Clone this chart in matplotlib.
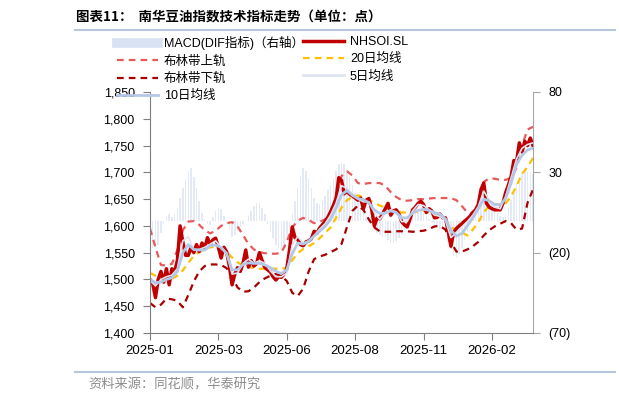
import numpy as np
import matplotlib
matplotlib.use('Agg')
import matplotlib.pyplot as plt
from matplotlib.lines import Line2D
from matplotlib.ticker import FuncFormatter

plt.rcParams['font.family'] = ['Liberation Sans', 'Noto Sans CJK SC']

# NHSOI.SL close, one value every 2 trading days
close = [1500, 1492, 1466, 1500, 1515, 1495, 1520, 1490, 1520, 1515,
         1535, 1600, 1570, 1545, 1545, 1560, 1550, 1565, 1552, 1568,
         1558, 1578, 1565, 1574, 1577, 1560, 1540, 1560, 1552, 1525,
         1490, 1510, 1522, 1515, 1530, 1555, 1523, 1535, 1525, 1530,
         1550, 1535, 1522, 1518, 1514, 1505, 1499, 1505, 1504, 1510,
         1520, 1555, 1598, 1578, 1575, 1565, 1563, 1570, 1572, 1576,
         1590, 1586, 1596, 1602, 1608, 1616, 1626, 1638, 1650, 1690,
         1685, 1660, 1665, 1659, 1656, 1652, 1648, 1652, 1632, 1648,
         1651, 1632, 1600, 1615, 1613, 1622, 1632, 1642, 1620, 1628,
         1630, 1622, 1608, 1602, 1598, 1612, 1630, 1635, 1642, 1646,
         1640, 1625, 1632, 1628, 1615, 1616, 1622, 1615, 1615, 1590,
         1562, 1588, 1595, 1600, 1604, 1609, 1613, 1618, 1625, 1630,
         1640, 1668, 1680, 1642, 1635, 1632, 1630, 1630, 1630, 1642,
         1662, 1676, 1692, 1722, 1720, 1755, 1738, 1758, 1750, 1764,
         1750]

# MACD DIF (right axis), same sampling as close
macd_dif = [-15, -17, -18, -15, -8, -2, 3, 4, 2, 4,
            8, 14, 20, 26, 31, 33, 27, 20, 12, 5,
            1, -2, -3, 2, 6, 8, 7, 3, -2, -6,
            -10, -9, -6, -4, -2, 0, 3, 6, 9, 11,
            11, 8, 4, -2, -7, -11, -15, -17, -18, -16,
            -12, -5, 4, 12, 20, 28, 33, 31, 26, 20,
            14, 11, 10, 12, 15, 19, 22, 26, 31, 35,
            36, 35, 31, 27, 22, 17, 12, 8, 5, 2,
            -1, -3, -6, -8, -9, -10, -10, -12, -14, -14,
            -13, -11, -9, -6, -3, 0, 3, 5, 6, 6,
            5, 3, 1, -1, -3, -4, -5, -6, -8, -13,
            -18, -22, -23, -21, -17, -12, -7, -2, 3, 8,
            12, 15, 17, 16, 13, 10, 7, 5, 3, 2,
            4, 8, 13, 18, 23, 27, 30, 31, 31, 30,
            29]

# moving averages and Bollinger bands, one value every 4 trading days
ma5 = [1498, 1488, 1500, 1505, 1508, 1520, 1572, 1580, 1555, 1556,
       1560, 1566, 1572, 1560, 1550, 1510, 1512, 1530, 1538, 1530,
       1535, 1530, 1516, 1505, 1505, 1512, 1565, 1580, 1568, 1572,
       1582, 1594, 1604, 1620, 1642, 1675, 1670, 1660, 1650, 1645,
       1645, 1625, 1612, 1625, 1630, 1626, 1608, 1608, 1628, 1640,
       1638, 1630, 1620, 1618, 1610, 1578, 1588, 1598, 1608, 1620,
       1636, 1665, 1648, 1635, 1632, 1655, 1690, 1725, 1745, 1752,
       1755]
ma10 = [1500, 1494, 1495, 1500, 1503, 1515, 1550, 1565, 1556, 1555,
        1555, 1563, 1564, 1560, 1548, 1518, 1518, 1528, 1531, 1530,
        1530, 1527, 1522, 1515, 1511, 1518, 1548, 1568, 1566, 1571,
        1581, 1590, 1599, 1612, 1633, 1658, 1666, 1657, 1651, 1649,
        1643, 1630, 1623, 1624, 1628, 1625, 1615, 1615, 1624, 1629,
        1631, 1629, 1625, 1622, 1613, 1592, 1581, 1586, 1600, 1615,
        1632, 1650, 1647, 1640, 1639, 1651, 1680, 1715, 1732, 1742,
        1745]
ma20 = [1512, 1507, 1503, 1500, 1501, 1507, 1517, 1531, 1544, 1551,
        1557, 1560, 1561, 1559, 1551, 1541, 1532, 1526, 1524, 1521,
        1520, 1520, 1520, 1520, 1520, 1522, 1536, 1549, 1557, 1562,
        1568, 1577, 1587, 1597, 1615, 1634, 1648, 1654, 1657, 1653,
        1648, 1643, 1638, 1634, 1630, 1628, 1625, 1625, 1625, 1627,
        1628, 1626, 1624, 1619, 1612, 1598, 1592, 1588, 1582, 1593,
        1607, 1625, 1638, 1640, 1640, 1642, 1655, 1675, 1697, 1710,
        1727]
boll_up = [1595, 1560, 1527, 1526, 1529, 1555, 1592, 1608, 1609, 1602,
           1592, 1586, 1591, 1600, 1605, 1607, 1599, 1583, 1566, 1556,
           1551, 1549, 1548, 1548, 1550, 1570, 1597, 1610, 1615, 1611,
           1605, 1608, 1612, 1626, 1655, 1693, 1702, 1694, 1680, 1678,
           1680, 1680, 1680, 1675, 1663, 1654, 1648, 1647, 1648, 1650,
           1650, 1651, 1652, 1652, 1652, 1652, 1648, 1637, 1625, 1622,
           1638, 1682, 1689, 1688, 1686, 1686, 1690, 1708, 1750, 1780,
           1785]
boll_dn = [1456, 1448, 1453, 1464, 1463, 1460, 1448, 1471, 1496, 1515,
           1525, 1528, 1528, 1527, 1521, 1506, 1485, 1477, 1478, 1485,
           1495, 1502, 1507, 1510, 1507, 1497, 1475, 1469, 1483, 1515,
           1538, 1543, 1546, 1551, 1556, 1566, 1598, 1628, 1638, 1630,
           1612, 1597, 1590, 1589, 1589, 1590, 1590, 1590, 1589, 1590,
           1591, 1594, 1599, 1600, 1593, 1570, 1552, 1552, 1556, 1562,
           1570, 1582, 1592, 1599, 1604, 1609, 1605, 1593, 1595, 1643,
           1668]

tick_labels = ['2025-01', '2025-03', '2025-06', '2025-08', '2025-11', '2026-02']
right_ticks = [80, 30, -20, -70]

x_daily = np.arange(len(close)) * 2
x_ma = np.arange(len(ma5)) * 4

W, H = 619, 403
fig = plt.figure(figsize=(W / 100, H / 100), dpi=100)
ax = fig.add_axes([150 / W, 1 - 333 / H, 383 / W, 241 / H])
ax2 = ax.twinx()
ax.set_zorder(ax2.get_zorder() + 1)
ax.patch.set_visible(False)

macd_color = '#e3e9f5'
ax2.bar(x_daily, macd_dif, width=1.1, color=macd_color, linewidth=0)
ax2.set_ylim(-70, 80)
ax2.set_yticks(right_ticks)
ax2.yaxis.set_major_formatter(FuncFormatter(lambda v, p: f'({abs(v):.0f})' if v < 0 else f'{v:.0f}'))

dash = (0, (3, 2.3))
ax.plot(x_ma, boll_up, color='#e8595b', ls=dash, lw=1.6)
ax.plot(x_ma, boll_dn, color='#a80000', ls=dash, lw=1.6)
ax.plot(x_ma, ma20, color='#ffc000', ls=dash, lw=1.6)
ax.plot(x_daily, close, color='#c00000', lw=2.5)
ax.plot(x_ma, ma5, color='#dde5f2', lw=1.2)
ax.plot(x_ma, ma10, color='#b4c7e7', lw=2.0)

ax.set_xlim(0, 280)
ax.set_ylim(1400, 1850)
ax.set_yticks(np.arange(1400, 1851, 50))
ax.yaxis.set_major_formatter(FuncFormatter(lambda v, p: f'{v:,.0f}'))
ax.set_xticks(np.arange(len(tick_labels)) * 50)
ax.set_xticklabels(tick_labels)

for a in (ax, ax2):
    a.spines['top'].set_visible(False)
ax.spines['right'].set_visible(False)
ax.spines['left'].set_color('#7f7f7f')
ax.spines['bottom'].set_color('#7f7f7f')
ax2.spines['left'].set_visible(False)
ax2.spines['bottom'].set_visible(False)
ax2.spines['right'].set_color('#a6a6a6')
ax.tick_params(axis='y', length=5, color='#7f7f7f', labelsize=9, pad=6)
ax.tick_params(axis='x', length=5, color='#7f7f7f', labelsize=9.5, pad=4)
ax2.tick_params(axis='y', length=5, color='#a6a6a6', labelsize=9, pad=6)

# legend, two columns laid out by hand
h_macd = Line2D([], [], color='#d9e2f3', lw=7)
h_up = Line2D([], [], color='#e8595b', ls=dash, lw=1.6)
h_dn = Line2D([], [], color='#a80000', ls=dash, lw=1.6)
h_ma10 = Line2D([], [], color='#b4c7e7', lw=2)
h_close = Line2D([], [], color='#c00000', lw=2.5)
h_ma20 = Line2D([], [], color='#ffc000', ls=dash, lw=1.6)
h_ma5 = Line2D([], [], color='#dde5f2', lw=2)
leg_kw = dict(loc='upper left', frameon=False, fontsize=9, handlelength=3.3,
              handletextpad=0.45, labelspacing=0.42, borderpad=0, borderaxespad=0)
fig.legend([h_macd, h_up, h_dn, h_ma10],
           ['MACD(DIF指标)（右轴）', '布林带上轨', '布林带下轨', '10日均线'],
           bbox_to_anchor=(117 / W, 1 - 36 / H), **leg_kw)
fig.legend([h_close, h_ma20, h_ma5], ['NHSOI.SL', '20日均线', '5日均线'],
           bbox_to_anchor=(303 / W, 1 - 36 / H), **leg_kw)

fig.text(76 / W, 1 - 18 / H, '图表11：  南华豆油指数技术指标走势（单位：点）',
         fontsize=9.7, fontweight='bold', va='center', ha='left',
         family=['Noto Sans CJK SC'])
fig.add_artist(Line2D([75 / W, 615 / W], [1 - 30 / H] * 2, color='#b8c8dc', lw=1.5))
fig.add_artist(Line2D([75 / W, 615 / W], [1 - 372 / H] * 2, color='#b8c8dc', lw=1.5))
fig.text(88 / W, 1 - 385 / H, '资料来源：同花顺，华泰研究', fontsize=9.5,
         color='#8c8c8c', va='center', ha='left', family=['Noto Sans CJK SC'])

fig.savefig('out.png', dpi=100)
